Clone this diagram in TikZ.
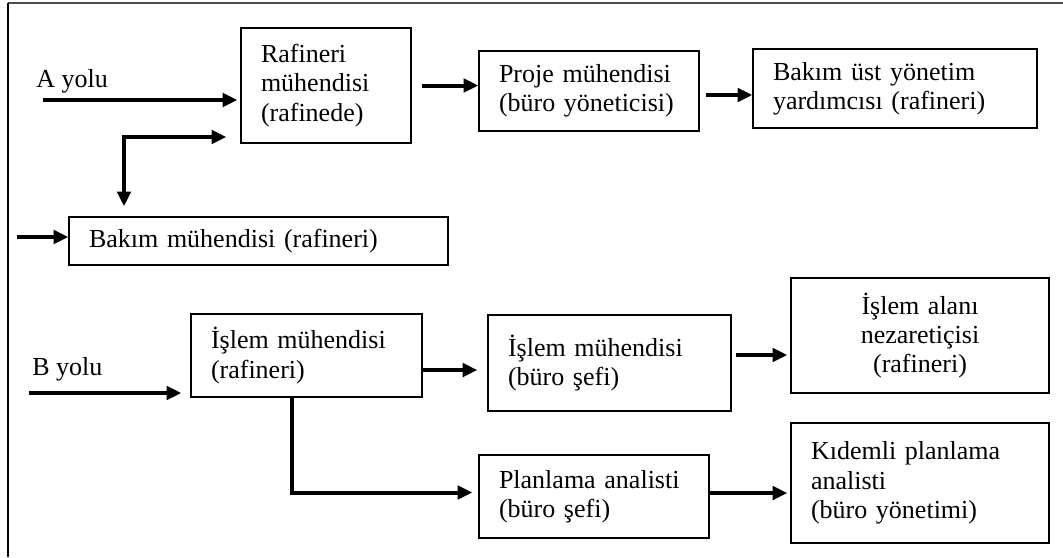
\documentclass[tikz,border=0pt]{standalone}
\usepackage{fontspec}
\setmainfont{Liberation Serif}
\usetikzlibrary{arrows.meta}
\begin{document}
\begin{tikzpicture}[x=0.75pt,y=-0.75pt,
  box/.style={draw=black,line width=1pt,inner xsep=15pt,inner ysep=2pt,align=left,
     font=\fontsize{19.5}{22}\selectfont},
  arr/.style={line width=3pt,-{Triangle[length=11pt,width=10pt]}},
  darr/.style={line width=3pt,{Triangle[length=11pt,width=10pt]}-{Triangle[length=11pt,width=10pt]}},
  lab/.style={inner sep=0pt,anchor=base west,font=\fontsize{19.5}{22}\selectfont}]
\useasboundingbox (0,0) rectangle (1063,557);
% frame
\draw[line width=1.5pt,black!70] (8,3) -- (1063,3);
\draw[line width=1.5pt,black] (8,3) -- (8,557);
% boxes
\node[box,minimum width=127.5pt,text width=97.5pt,minimum height=86.25pt] (raf) at (326,85.5) {Rafineri\\mühendisi\\(rafinede)};
\node[box,minimum width=165pt,text width=135pt,minimum height=60pt] (proje) at (589,91) {Proje mühendisi\\(büro yöneticisi)};
\node[box,minimum width=213pt,text width=183pt,minimum height=59.25pt] (bakimust) at (895,88.5) {Bakım üst yönetim\\yardımcısı (rafineri)};
\node[box,minimum width=284.25pt,text width=254.25pt,minimum height=36pt] (bakim) at (258.5,241) {Bakım mühendisi (rafineri)};
\node[box,minimum width=173.25pt,text width=143.25pt,minimum height=62.25pt] (islemraf) at (306.5,355.5) {İşlem mühendisi\\(rafineri)};
\node[box,minimum width=182.25pt,text width=152.25pt,minimum height=72pt] (islembuero) at (609.5,363) {İşlem mühendisi\\(büro şefi)};
\node[box,align=center,minimum width=193.5pt,text width=163.5pt,minimum height=86.25pt] (islemalani) at (920,335.5) {İşlem alanı\\nezaretiçisi\\(rafineri)};
\node[box,minimum width=172.5pt,text width=142.5pt,minimum height=62.25pt] (planlama) at (594,496.5) {Planlama analisti\\(büro şefi)};
\node[box,minimum width=193.5pt,text width=163.5pt,minimum height=90pt] (kidemli) at (920,483) {Kıdemli planlama\\analisti\\(büro yönetimi)};
% labels
\node[lab] (ayolu) at (36,87) {A yolu};
\node[lab] (byolu) at (32,375) {B yolu};
% start points
\coordinate (astart) at (43,100);
\coordinate (bstart) at (29,393);
\coordinate (cstart) at (17,237);
\coordinate (e1) at (124,137);
% connectors
\draw[arr,shorten >=2.25pt] (astart) -- (astart -| raf.west);
\draw[darr] ([yshift=7.5pt]e1 |- bakim.north) -- (e1) -- ([xshift=-10.5pt]e1 -| raf.west);
\draw[arr] (cstart) -- (cstart -| bakim.west);
\draw[arr] ([xshift=7.5pt]raf.east) -- (raf.east -| proje.west);
\draw[arr] ([shift={(4.5pt,-3pt)}]proje.east) -- ([yshift=-3pt]proje.east -| bakimust.west);
\draw[arr,shorten >=6.75pt] (bstart) -- (bstart -| islemraf.west);
\draw[arr,shorten >=7.5pt] ([yshift=-10.9pt]islemraf.east) -- ([yshift=-10.9pt]islemraf.east -| islembuero.west);
\draw[arr,shorten >=4.5pt] ([xshift=-10.9pt]islemraf.south) |- ([yshift=3pt]planlama.west);
\draw[arr,shorten >=2.25pt] ([shift={(3pt,6pt)}]islembuero.east) -- ([yshift=6pt]islembuero.east -| islemalani.west);
\draw[arr,shorten >=2.25pt] ([yshift=2.6pt]planlama.east) -- ([yshift=2.6pt]planlama.east -| kidemli.west);
\end{tikzpicture}
\end{document}
